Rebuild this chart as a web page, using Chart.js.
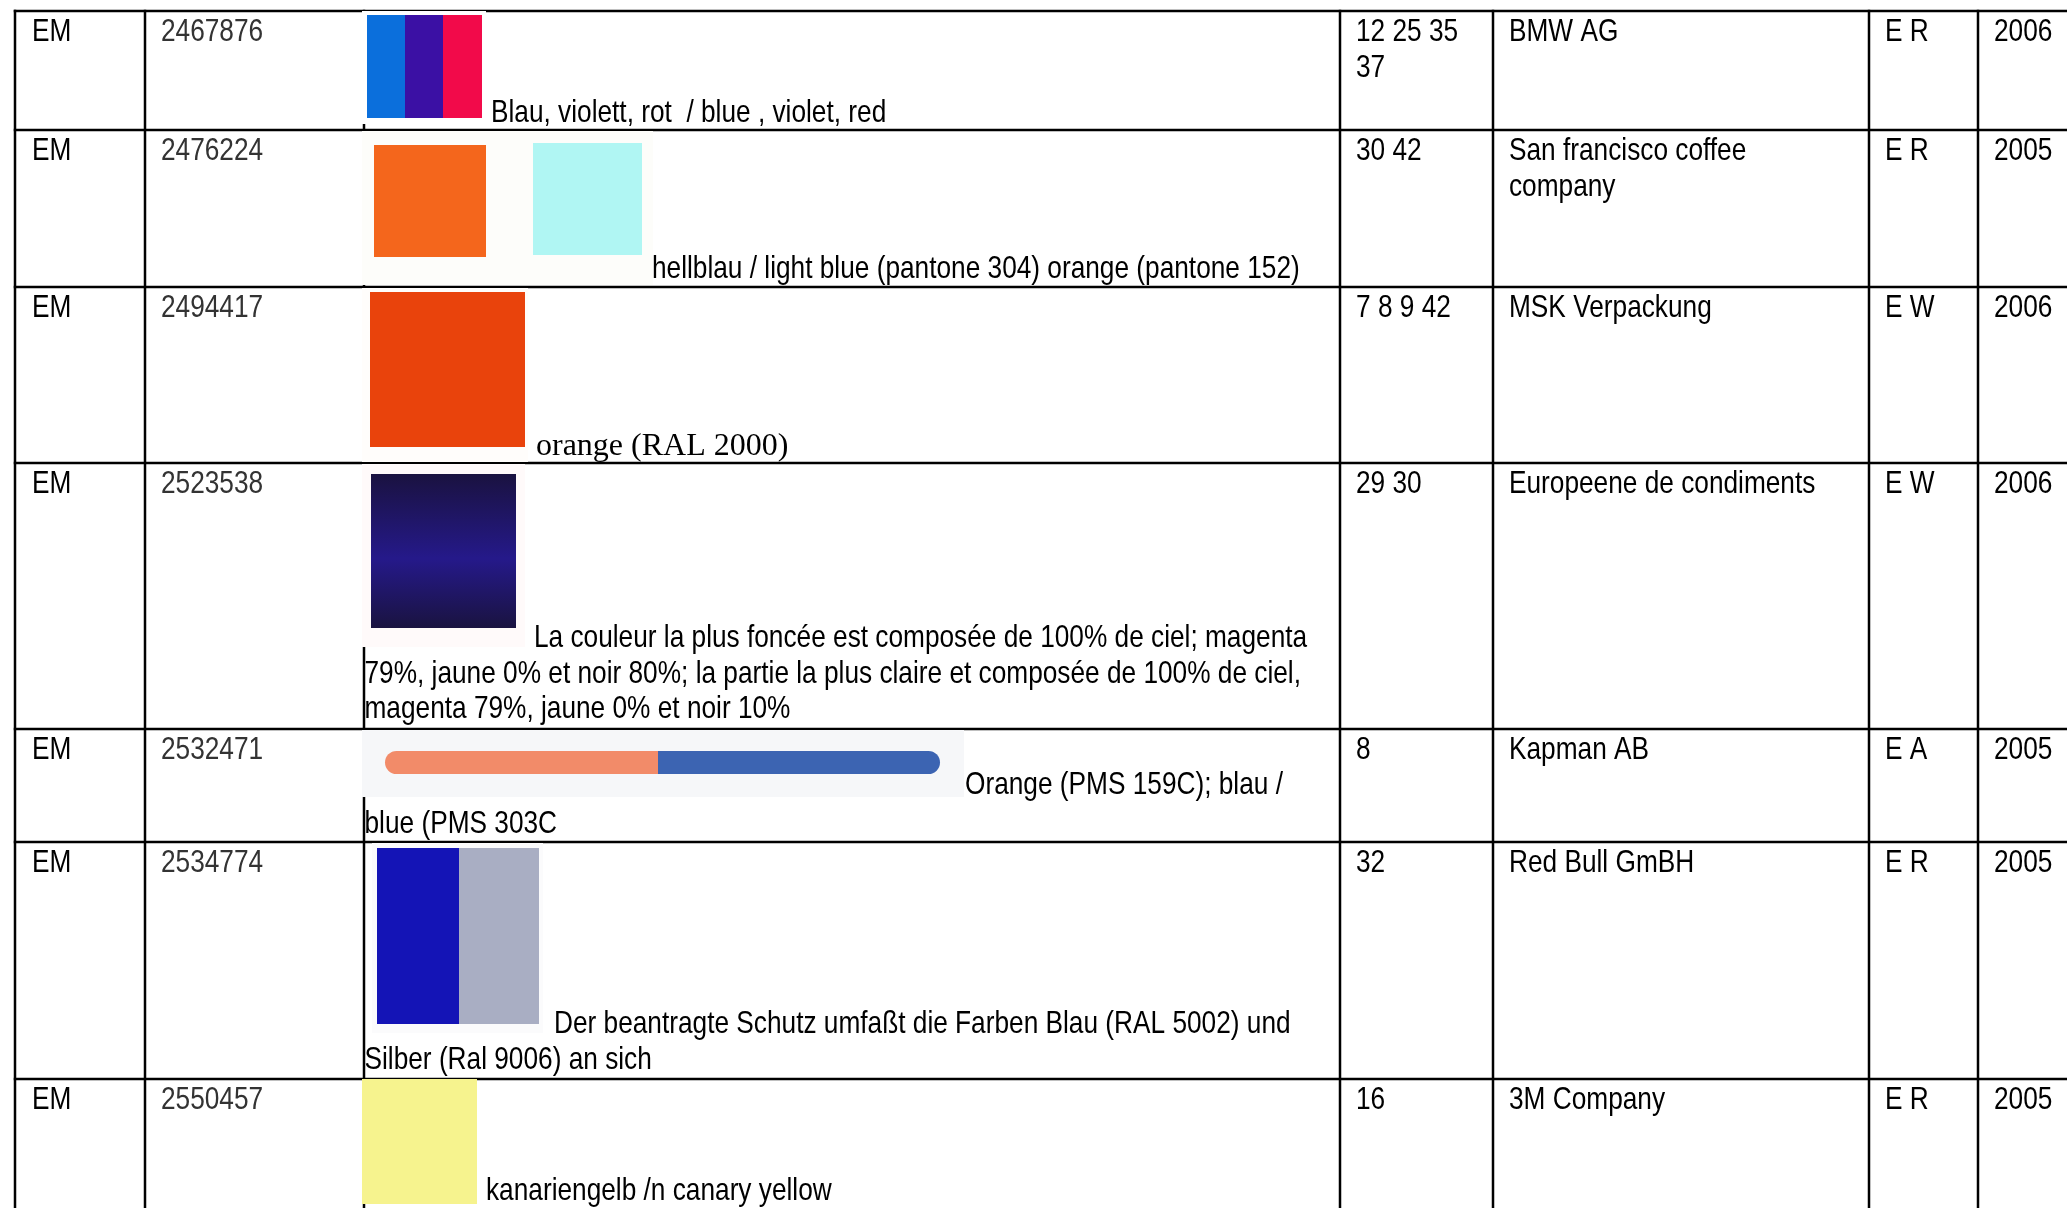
<!DOCTYPE html>
<html>
<head>
<meta charset="utf-8">
<title>Farbmarken</title>
<script src="https://cdn.jsdelivr.net/npm/chart.js"></script>
<style>
  html, body { margin: 0; padding: 0; background: #fff; }
  canvas { display: block; }
</style>
</head>
<body>
<canvas id="marks" width="2067" height="1208"></canvas>
<script>
// table content
const offices = ['EM', 'EM', 'EM', 'EM', 'EM', 'EM', 'EM']
const markNumbers = ['2467876', '2476224', '2494417', '2523538', '2532471', '2534774', '2550457']
const descriptions = [
  ['Blau, violett, rot  / blue , violet, red'],
  ['hellblau / light blue (pantone 304) orange (pantone 152)'],
  ['orange (RAL 2000)'],
  ['La couleur la plus foncée est composée de 100% de ciel; magenta',
   '79%, jaune 0% et noir 80%; la partie la plus claire et composée de 100% de ciel,',
   'magenta 79%, jaune 0% et noir 10%'],
  ['Orange (PMS 159C); blau /', 'blue (PMS 303C'],
  ['Der beantragte Schutz umfaßt die Farben Blau (RAL 5002) und', 'Silber (Ral 9006) an sich'],
  ['kanariengelb /n canary yellow']
]
const classes = [['12 25 35', '37'], ['30 42'], ['7 8 9 42'], ['29 30'], ['8'], ['32'], ['16']]
const owners = [['BMW AG'], ['San francisco coffee', 'company'], ['MSK Verpackung'], ['Europeene de condiments'], ['Kapman AB'], ['Red Bull GmBH'], ['3M Company']]
const kinds = ['E R', 'E R', 'E W', 'E W', 'E A', 'E R', 'E R']
const years = ['2006', '2005', '2006', '2006', '2005', '2005', '2005']
const swatchColors = [
  ['#0b6fdc', '#3b10a4', '#f20a4a'],
  ['#f4661c', '#b0f6f3'],
  ['#e9430c'],
  ['#25198a'],
  ['#f28b69', '#3c64b2'],
  ['#1414b6', '#a9aec3'],
  ['#f6f38e']
]

// layout (table units = page pixels of the scanned sheet)
const colEdges = [15, 145, 364, 1340, 1493, 1869, 1978]
const rowEdges = [11, 130, 287, 463, 729, 842, 1079]
const lineGap = 36
const firstBase = 30
const pad = 16

// picture boxes: background, then one rect per colour
const pictures = [
  { bg: [362, 11, 486, 124, '#ffffff'], parts: [[367, 15, 405, 118], [405, 15, 443, 118], [443, 15, 482, 118]] },
  { bg: [362, 131, 653, 285, '#fdfdfa'], parts: [[374, 145, 486, 257], [533, 143, 642, 255]] },
  { bg: [362, 288, 528, 462, '#fffdfb'], parts: [[370, 292, 525, 447]] },
  { bg: [362, 464, 525, 647, '#fffafa'], parts: [[371, 474, 516, 628]], gradient: true },
  { bg: [362, 730, 964, 797, '#f6f7f9'], parts: [[385, 751, 658, 774], [658, 751, 940, 774]], round: true },
  { bg: [372, 843, 543, 1033, '#fbfbfc'], parts: [[377, 848, 459, 1024], [459, 848, 539, 1024]] },
  { bg: null, parts: [[362, 1079, 477, 1204]] }
]
const descPos = [
  { x: [491], y: [122] },
  { x: [652], y: [278] },
  { x: [536], y: [455], serif: true },
  { x: [534, 364.5, 364.5], y: [647, 682.5, 718] },
  { x: [965, 364.5], y: [794, 833] },
  { x: [554, 364.5], y: [1033, 1069] },
  { x: [486], y: [1200] }
]

function drawText(ctx, str, x, y, color, serif) {
  ctx.save()
  ctx.fillStyle = color
  ctx.textBaseline = 'alphabetic'
  if (serif) {
    ctx.font = '32px "Liberation Serif", "Times New Roman", serif'
    ctx.fillText(str, x, y)
  } else {
    // narrow sans: Arial metrics squeezed like Arial Narrow
    ctx.font = '32px "Liberation Sans", Arial, sans-serif'
    ctx.translate(x, y)
    ctx.scale(0.82, 1)
    ctx.fillText(str, 0, 0)
  }
  ctx.restore()
}

const tablePlugin = {
  id: 'tablePlugin',
  afterDraw(chart) {
    const ctx = chart.ctx
    const sx = chart.scales.x
    const sy = chart.scales.y
    const px = v => sx.getPixelForValue(v)
    const py = v => sy.getPixelForValue(v)
    const right = sx.max
    const bottom = sy.max

    // grid
    ctx.save()
    ctx.strokeStyle = '#000'
    ctx.lineWidth = 2.5
    rowEdges.forEach(r => {
      ctx.beginPath()
      ctx.moveTo(px(colEdges[0] - 1.25), py(r))
      ctx.lineTo(px(right), py(r))
      ctx.stroke()
    })
    colEdges.forEach(c => {
      ctx.beginPath()
      ctx.moveTo(px(c), py(rowEdges[0] - 1.25))
      ctx.lineTo(px(c), py(bottom))
      ctx.stroke()
    })
    ctx.restore()

    // colour samples
    pictures.forEach((pic, i) => {
      if (pic.bg) {
        const b = pic.bg
        ctx.fillStyle = b[4]
        ctx.fillRect(px(b[0]), py(b[1]), px(b[2]) - px(b[0]), py(b[3]) - py(b[1]))
      }
      pic.parts.forEach((p, k) => {
        const x0 = px(p[0]), y0 = py(p[1]), w = px(p[2]) - x0, h = py(p[3]) - y0
        let fill = swatchColors[i][k]
        if (pic.gradient) {
          const g = ctx.createLinearGradient(0, y0, 0, y0 + h)
          g.addColorStop(0, '#1a1240')
          g.addColorStop(0.55, fill)
          g.addColorStop(1, '#1a1340')
          fill = g
        }
        ctx.fillStyle = fill
        if (pic.round) {
          const rr = h / 2
          const radii = k === 0 ? [rr, 0, 0, rr] : [0, rr, rr, 0]
          ctx.beginPath()
          ctx.roundRect(x0, y0, w, h, radii)
          ctx.fill()
        } else {
          ctx.fillRect(x0, y0, w, h)
        }
      })
    })

    // cell text
    for (let i = 0; i < offices.length; i++) {
      const base = rowEdges[i] + firstBase
      drawText(ctx, offices[i], px(colEdges[0] + pad + 1), py(base), '#000')
      drawText(ctx, markNumbers[i], px(colEdges[1] + pad), py(base), '#333')
      classes[i].forEach((t, k) => drawText(ctx, t, px(colEdges[3] + pad), py(base + k * lineGap), '#000'))
      owners[i].forEach((t, k) => drawText(ctx, t, px(colEdges[4] + pad), py(base + k * lineGap), '#000'))
      drawText(ctx, kinds[i], px(colEdges[5] + pad), py(base), '#000')
      drawText(ctx, years[i], px(colEdges[6] + pad), py(base), '#000')

      const d = descPos[i]
      descriptions[i].forEach((t, k) => drawText(ctx, t, px(d.x[k]), py(d.y[k]), '#000', d.serif))
    }
  }
}

const chart = new Chart(document.getElementById('marks'), {
  type: 'scatter',
  data: { datasets: [] },
  options: {
    responsive: false,
    devicePixelRatio: 1,
    animation: false,
    layout: { padding: 0 },
    scales: {
      x: { type: 'linear', min: 0, max: 2067, display: false },
      y: { type: 'linear', min: 0, max: 1208, reverse: true, display: false }
    },
    plugins: { legend: { display: false }, tooltip: { enabled: false } }
  },
  plugins: [tablePlugin]
})
</script>
</body>
</html>
